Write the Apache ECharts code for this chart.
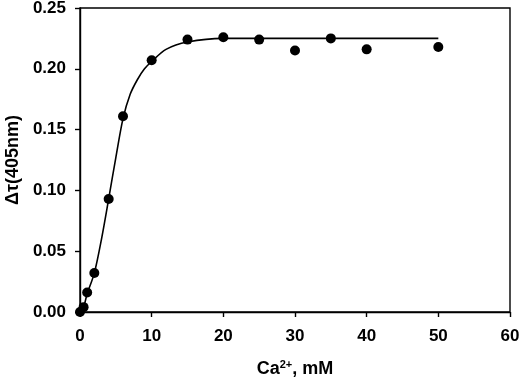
<!DOCTYPE html>
<html>
<head>
<meta charset="utf-8">
<script src="https://cdn.jsdelivr.net/npm/echarts@6/dist/echarts.min.js"></script>
<style>
  html, body { margin: 0; padding: 0; background: #fff; }
  #main { width: 520px; height: 377px; }
</style>
</head>
<body>
<div id="main"></div>
<script>
// measured points: Ca2+ (mM) vs delta tau
var caConc = [0, 0.5, 1, 2, 4, 6, 10, 15, 20, 25, 30, 35, 40, 50];
var deltaTau = [0, 0.004, 0.016, 0.032, 0.093, 0.161, 0.207, 0.224, 0.226, 0.224, 0.215, 0.225, 0.216, 0.218];

// fitted curve
var fitX = [0, 0.5, 1, 2, 3, 4, 5, 6, 7, 8, 9, 10, 12, 15, 20, 30, 50];
var fitY = [0, 0.004, 0.015, 0.032, 0.06, 0.093, 0.127, 0.159, 0.179, 0.191, 0.2, 0.206, 0.216, 0.222, 0.225, 0.225, 0.225];

var xTicks = [0, 10, 20, 30, 40, 50, 60];
var yTicks = [0, 0.05, 0.10, 0.15, 0.20, 0.25];

var myChart = echarts.init(document.getElementById('main'));

var pts = caConc.map(function (x, i) { return [x, deltaTau[i]]; });
var fit = fitX.map(function (x, i) { return [x, fitY[i]]; });

var font = 'Liberation Sans, Arial, sans-serif';

myChart.setOption({
  animation: false,
  grid: {
    left: 80, right: 10, top: 8, bottom: 65,
    containLabel: false,
    outerBoundsMode: 'none',
    show: true, borderColor: '#000', borderWidth: 1.4
  },
  xAxis: {
    type: 'value',
    min: xTicks[0], max: xTicks[xTicks.length - 1], interval: 10,
    name: '{b|Ca}{sup|2+}{b|, mM}',
    nameLocation: 'middle',
    nameGap: 47,
    nameTextStyle: {
      rich: {
        b: { fontFamily: font, fontWeight: 'bold', fontSize: 18, color: '#000', lineHeight: 20 },
        sup: { fontFamily: font, fontWeight: 'bold', fontSize: 11, color: '#000', verticalAlign: 'top', lineHeight: 11 }
      }
    },
    axisLine: { lineStyle: { color: '#000', width: 1.4 } },
    axisTick: { show: true, inside: false, length: 5, lineStyle: { color: '#000', width: 1.4 } },
    axisLabel: { color: '#000', fontFamily: font, fontWeight: 'bold', fontSize: 17, margin: 16 },
    splitLine: { show: false }
  },
  yAxis: {
    type: 'value',
    min: yTicks[0], max: yTicks[yTicks.length - 1], interval: 0.05,
    name: 'Δτ(405nm)',
    nameLocation: 'middle',
    nameGap: 58,
    nameRotate: 90,
    nameTextStyle: { color: '#000', fontFamily: font, fontWeight: 'bold', fontSize: 18 },
    axisLine: { show: true, lineStyle: { color: '#000', width: 1.4 } },
    axisTick: { show: true, inside: false, length: 5, lineStyle: { color: '#000', width: 1.4 } },
    axisLabel: {
      color: '#000', fontFamily: font, fontWeight: 'bold', fontSize: 17, margin: 14,
      formatter: function (v) { return v.toFixed(2); }
    },
    splitLine: { show: false }
  },
  series: [
    {
      type: 'line',
      data: fit,
      smooth: 0.3,
      showSymbol: false,
      lineStyle: { color: '#000', width: 1.6 },
      z: 2
    },
    {
      type: 'scatter',
      data: pts,
      symbol: 'circle',
      symbolSize: 10,
      itemStyle: { color: '#000', opacity: 1 },
      z: 3
    }
  ]
});
</script>
</body>
</html>
